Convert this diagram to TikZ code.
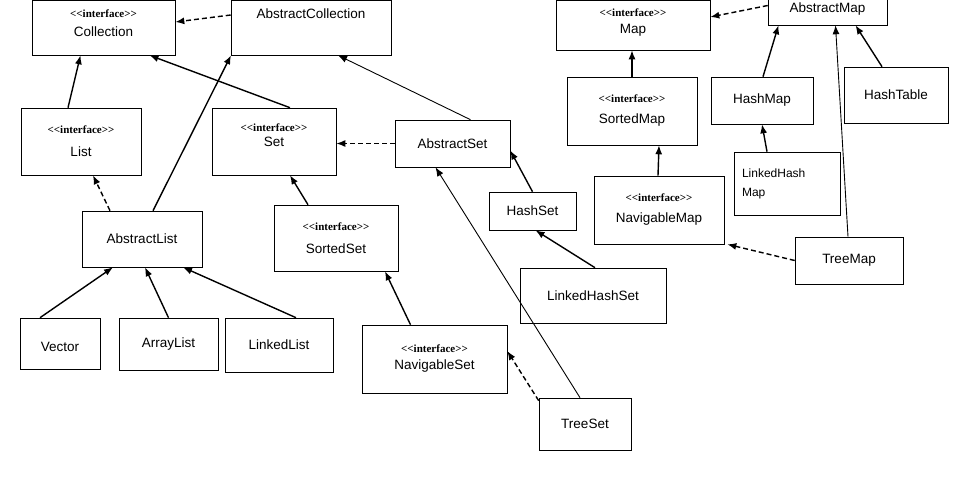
\documentclass[tikz,border=0pt]{standalone}
\usepackage{fontspec}
\setmainfont{Liberation Sans}
\newfontfamily\ifcfont{Liberation Serif}
\usetikzlibrary{arrows.meta}
\newcommand{\iface}{{\ifcfont\bfseries\fontsize{11}{12}\selectfont <{}<interface>{}>}}
\tikzset{
box/.style = {draw, line width=0.6pt, inner sep=0pt, align=center, font=\fontsize{13.5}{15}\selectfont},
gen/.style = {-{Latex[length=9pt,width=7pt]}, line width=1.4pt},
thin gen/.style = {-{Latex[length=9pt,width=7pt]}, line width=0.9pt},
impl/.style = {gen, dashed, dash pattern=on 5pt off 3pt}
}
\begin{document}
\begin{tikzpicture}[x=1pt,y=-1pt]
  \useasboundingbox (0,0) rectangle (953,500);

    % COLLECTIONS
    \node[box,minimum width=143pt,minimum height=55pt,text depth=8pt] (Collection) at (103.5,27.5) {\iface\\[4pt]Collection};
    \node[box,minimum width=160pt,minimum height=55pt,text depth=28pt] (AbsCollection) at (311,27.5) {AbstractCollection};
    \node[box,minimum width=120pt,minimum height=67pt] (List) at (81,141.5) {\iface\\[8pt]List};
    \node[box,minimum width=124pt,minimum height=67pt,text depth=12pt] (Set) at (274,141.5) {\iface\\[0pt]Set};
    \node[box,minimum width=115pt,minimum height=47pt] (AbsSet) at (452.5,143.5) {AbstractSet};
    \node[box,minimum width=120pt,minimum height=56pt] (AbsList) at (142,239) {AbstractList};
    \node[box,minimum width=124pt,minimum height=66pt] (SortedSet) at (336,238) {\iface\\[8pt]SortedSet};
    \node[box,minimum width=87pt,minimum height=38pt] (HashSet) at (532.5,211) {HashSet};
    \node[box,minimum width=146pt,minimum height=55pt] (LHashSet) at (593,295.5) {LinkedHashSet};
    \node[box,minimum width=80pt,minimum height=51pt,text height=16pt] (Vector) at (60,343.5) {Vector};
    \node[box,minimum width=99pt,minimum height=52pt] (ArrayList) at (168.5,344) {ArrayList};
    \node[box,minimum width=108pt,minimum height=54pt] (LinkedList) at (279,345) {LinkedList};
    \node[box,minimum width=145pt,minimum height=68pt] (NavSet) at (434.5,359) {\iface\\[2pt]NavigableSet};
    \node[box,minimum width=92pt,minimum height=52pt] (TreeSet) at (585,424) {TreeSet};

    % MAPS
    \node[box,minimum width=154pt,minimum height=50pt,text depth=8pt] (Map) at (633,25) {\iface\\[2pt]Map};
    \node[box,minimum width=119pt,minimum height=29pt,text depth=6pt] (AbsMap) at (827.5,10.5) {AbstractMap};
    \node[box,minimum width=130pt,minimum height=68pt] (SortedMap) at (632,111) {\iface\\[6pt]SortedMap};
    \node[box,minimum width=102pt,minimum height=47pt] (HashMap) at (762,100.5) {HashMap};
    \node[box,minimum width=104pt,minimum height=56pt] (HashTable) at (896,95) {HashTable};
    \node[box,minimum width=106pt,minimum height=63pt,align=left,font=\fontsize{12}{19}\selectfont,text width=90pt] (LHashMap) at (787,183.5) {LinkedHash\\Map};
    \node[box,minimum width=130pt,minimum height=68pt] (NavMap) at (659,210) {\iface\\[6pt]NavigableMap};
    \node[box,minimum width=108pt,minimum height=47pt] (TreeMap) at (849,260.5) {TreeMap};

    % HERANCA / IMPLEMENTACAO
    \draw[impl] (AbsCollection.west |- 0,15) -- (Collection.east |- 0,22);
    \draw[gen] ([xshift=-13pt]List.north) -- ([xshift=-23pt]Collection.south);
    \draw[impl] ([xshift=-32pt]AbsList.north) -- ([xshift=12pt]List.south);
    \draw[gen] ([xshift=11pt]AbsList.north) -- ([xshift=-80pt]AbsCollection.south);
    \draw[gen] ([xshift=16pt]Set.north) -- ([xshift=46pt]Collection.south);
    \draw[thin gen] ([xshift=18pt]AbsSet.north) -- ([xshift=27pt]AbsCollection.south);
    \draw[impl] (AbsSet.west) -- (Set.east |- AbsSet.west);
    \draw[gen] ([xshift=-28pt]SortedSet.north) -- ([xshift=16pt]Set.south);
    \draw[gen] (HashSet.north) -- ([yshift=-7pt]AbsSet.east);
    \draw[gen] ([xshift=2pt]LHashSet.north) -- ([xshift=3pt]HashSet.south);
    \draw[gen] ([xshift=-20pt]Vector.north) -- ([xshift=-29pt]AbsList.south);
    \draw[gen] (ArrayList.north) -- ([xshift=3pt]AbsList.south);
    \draw[gen] ([xshift=17pt]LinkedList.north) -- ([xshift=41pt]AbsList.south);
    \draw[gen] ([xshift=-24pt]NavSet.north) -- ([xshift=49pt]SortedSet.south);
    \draw[impl] ([yshift=-3pt]TreeSet.north west) -- ([yshift=8pt]NavSet.east);
    \draw[thin gen] ([xshift=-5pt]TreeSet.north) -- ([xshift=-17pt]AbsSet.south);
    \draw[impl] ([yshift=5pt]AbsMap.west) -- (Map.east |- 0,17);
    \draw[gen] (SortedMap.north) -- (Map.south -| SortedMap.north);
    \draw[gen] ([xshift=1pt]HashMap.north) -- ([xshift=-49pt]AbsMap.south);
    \draw[gen] ([xshift=-14pt]HashTable.north) -- ([xshift=28pt]AbsMap.south);
    \draw[gen] ([xshift=-20pt]LHashMap.north) -- (HashMap.south);
    \draw[gen] ([xshift=-1pt]NavMap.north) -- (SortedMap.south -| NavMap.north);
    \draw[impl] (TreeMap.west) -- ([xshift=3pt]NavMap.south east);
    \draw[thin gen] ([xshift=-1pt]TreeMap.north) -- ([xshift=8pt]AbsMap.south);
\end{tikzpicture}
\end{document}
